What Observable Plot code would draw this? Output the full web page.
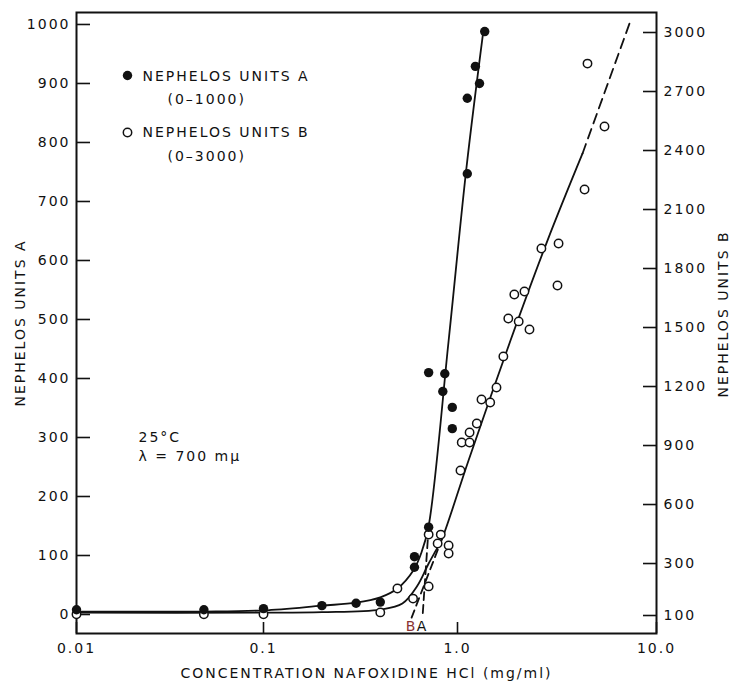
<!DOCTYPE html>
<html><head><meta charset="utf-8">
<script src="https://cdn.jsdelivr.net/npm/d3@7"></script>
<script src="https://cdn.jsdelivr.net/npm/@observablehq/plot@0.6"></script>
<style>
html,body{margin:0;padding:0;background:#fff;}
#chart svg{display:block;}
</style>
</head><body><div id="chart"></div>
<script>
// ---------- tick labels ----------
const xTicks = [0.01, 0.1, 1, 10];
const xTickLabels = ["0.01", "0.1", "1.0", "10.0"];
const yTicksA = [0, 100, 200, 300, 400, 500, 600, 700, 800, 900, 1000];
const yTicksB = [100, 300, 600, 900, 1200, 1500, 1800, 2100, 2400, 2700, 3000];
// right axis as printed: B value -> A units
const bAxisB = [100, 300, 3000];
const bAxisA = [-1.7, 86.4, 986.4];

// ---------- Nephelos units A (filled) ----------
const concA  = [0.01, 0.048, 0.1, 0.2, 0.3, 0.4, 0.6, 0.6, 0.71, 0.71, 0.86, 0.84, 0.94, 0.94, 1.12, 1.12, 1.29, 1.23, 1.37];
const unitsA = [8, 8, 10, 15, 19, 21, 98, 80, 148, 410, 408, 378, 351, 315, 747, 875, 900, 929, 988];

// ---------- Nephelos units B (open) ----------
const concB  = [0.01, 0.048, 0.1, 0.4, 0.49, 0.59, 0.71, 0.71, 0.79, 0.82, 0.90, 0.90, 1.035, 1.05, 1.15, 1.15, 1.25, 1.32, 1.46, 1.57, 1.70, 1.80, 2.03, 2.30, 1.93, 2.17, 2.64, 3.22, 3.18, 4.50, 5.48, 4.35];
const unitsB = [105, 105, 105, 112, 204, 165, 212, 447, 402, 447, 392, 351, 773, 915, 915, 966, 1012, 1134, 1119, 1195, 1353, 1546, 1531, 1490, 1668, 1683, 1902, 1927, 1714, 2842, 2522, 2202];

// ---------- drawn curves ----------
const curveAConc  = [0.01, 0.048, 0.1, 0.2, 0.3, 0.4, 0.49, 0.593, 0.652, 0.71, 0.9, 1.11, 1.35];
const curveAUnits = [5, 5, 7, 15, 20, 29, 44, 75, 105, 150, 464, 758, 990];
const curveBConc  = [0.01, 0.1, 0.2, 0.4, 0.52, 0.622, 0.71, 0.798, 0.837, 1.136, 1.846, 2.832, 4.25];
const curveBUnits = [111, 111, 113, 123, 146, 215, 300, 391, 432, 824, 1434, 1942, 2385];
const curveBDashConc  = [4.25, 7.32];
const curveBDashUnits = [2385, 3046];
// extrapolations to the baseline
const extAConc = [0.71, 0.66];
const extAUnits = [148, -5];
const extBConc = [0.837, 0.58];
const extBUnits = [432, 92];

// ---------- text ----------
const legendLabels = ["NEPHELOS UNITS A", "NEPHELOS UNITS B"];
const legendRanges = ["(0–1000)", "(0–3000)"];
const noteLines = ["25°C", "λ = 700 mμ"];
const xTitle = "CONCENTRATION NAFOXIDINE HCl (mg/ml)";
const yTitleA = "NEPHELOS UNITS A";
const yTitleB = "NEPHELOS UNITS B";

const ink = "#111";
const bToA = d3.scaleLinear().domain(bAxisB).range(bAxisA);

const dotsA = concA.map((c, i) => ({c, v: unitsA[i]}));
const dotsB = concB.map((c, i) => ({c, v: bToA(unitsB[i])}));
const lineA = curveAConc.map((c, i) => ({c, v: curveAUnits[i]}));
const lineB = curveBConc.map((c, i) => ({c, v: bToA(curveBUnits[i])}));
const lineBDash = curveBDashConc.map((c, i) => ({c, v: bToA(curveBDashUnits[i])}));
const extA = extAConc.map((c, i) => ({c, v: extAUnits[i]}));
const extB = extBConc.map((c, i) => ({c, v: bToA(extBUnits[i])}));
const extLabels = [
  {c: extBConc[1], v: bToA(extBUnits[1]), t: "B", col: "#8a3232"},
  {c: extAConc[1], v: extAUnits[1], t: "A", col: ink}
];

const W = 732, H = 683, ML = 76, MR = 76, MT = 12, MB = 50;
const frameW = W - ML - MR, frameH = H - MT - MB;
const ann = {frameAnchor: "top-left", textAnchor: "start", lineAnchor: "middle"};

const chart = Plot.plot({
  width: W,
  height: H,
  marginLeft: ML,
  marginRight: MR,
  marginTop: MT,
  marginBottom: MB,
  style: {fontFamily: "'DejaVu Sans', sans-serif", fontSize: "14px", letterSpacing: "2px", color: ink, background: "#fff"},
  x: {type: "log", domain: [0.01, 0.1, 1, 10], range: [76, 263, 457, 656]},
  y: {domain: [-32.2, 1020.3]},
  marks: [
    Plot.frame({stroke: ink, strokeWidth: 2}),
    // inward tick marks
    Plot.tickY(yTicksA, {y: d => d, stroke: ink, strokeWidth: 1.6, insetRight: frameW - 14}),
    Plot.tickY(yTicksB.map(bToA), {y: d => d, stroke: ink, strokeWidth: 1.6, insetLeft: frameW - 13}),
    Plot.tickX(xTicks, {x: d => d, stroke: ink, strokeWidth: 1.6, insetTop: frameH - 11}),
    // tick labels
    Plot.axisX({ticks: xTicks, tickFormat: d => xTickLabels[xTicks.indexOf(d)], tickSize: 0, tickPadding: 10, label: null}),
    Plot.axisY({ticks: yTicksA, tickFormat: d => String(d), tickSize: 0, tickPadding: 6, label: null}),
    Plot.axisY({anchor: "right", ticks: yTicksB.map(bToA), tickFormat: d => String(Math.round(bToA.invert(d))), tickSize: 0, tickPadding: 7, label: null}),
    // curves
    Plot.line(lineA, {x: "c", y: "v", stroke: ink, strokeWidth: 1.8, curve: "catmull-rom"}),
    Plot.line(lineB, {x: "c", y: "v", stroke: ink, strokeWidth: 1.8, curve: "catmull-rom"}),
    Plot.line(lineBDash, {x: "c", y: "v", stroke: ink, strokeWidth: 1.8, strokeDasharray: "10,6"}),
    Plot.line(extA, {x: "c", y: "v", stroke: ink, strokeWidth: 1.8, strokeDasharray: "8,5"}),
    Plot.line(extB, {x: "c", y: "v", stroke: ink, strokeWidth: 1.8, strokeDasharray: "8,5"}),
    Plot.text(extLabels, {x: "c", y: "v", text: "t", fill: "col", dy: 9, fontSize: 14}),
    // data points
    Plot.dot(dotsB, {x: "c", y: "v", r: 4.2, fill: "#fff", stroke: ink, strokeWidth: 1.5}),
    Plot.dot(dotsA, {x: "c", y: "v", r: 4.7, fill: ink, stroke: "none"}),
    // legend
    Plot.dot([legendLabels[0]], {frameAnchor: "top-left", dx: 51, dy: 63, r: 4.7, fill: ink}),
    Plot.dot([legendLabels[1]], {frameAnchor: "top-left", dx: 51, dy: 120, r: 4.2, fill: "#fff", stroke: ink, strokeWidth: 1.5}),
    Plot.text([legendLabels[0]], {...ann, dx: 66, dy: 64}),
    Plot.text([legendRanges[0]], {...ann, dx: 91, dy: 87}),
    Plot.text([legendLabels[1]], {...ann, dx: 66, dy: 120}),
    Plot.text([legendRanges[1]], {...ann, dx: 91, dy: 144}),
    // conditions
    Plot.text([noteLines[0]], {...ann, dx: 62, dy: 425}),
    Plot.text([noteLines[1]], {...ann, dx: 62, dy: 444}),
    // axis titles
    Plot.text([xTitle], {frameAnchor: "bottom", textAnchor: "middle", lineAnchor: "middle", dy: 40}),
    Plot.text([yTitleA], {frameAnchor: "left", textAnchor: "middle", lineAnchor: "middle", dx: -56, rotate: -90}),
    Plot.text([yTitleB], {frameAnchor: "right", textAnchor: "middle", lineAnchor: "middle", dx: 67, dy: -9, rotate: -90})
  ]
});
document.getElementById("chart").appendChild(chart);
</script>
</body></html>
